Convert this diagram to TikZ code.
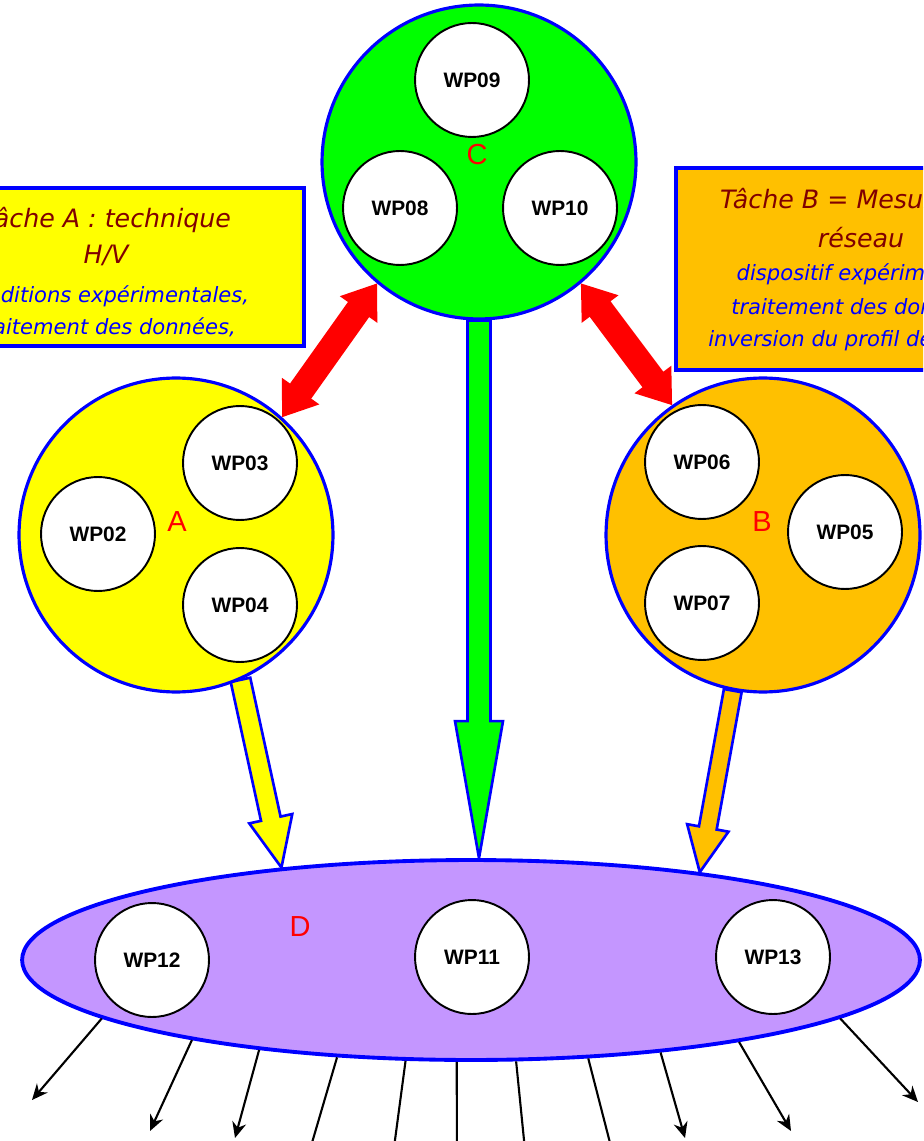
\documentclass[tikz,border=0pt]{standalone}
\usepackage{fontspec}
\setmainfont{Liberation Sans}
\newfontfamily\comicfont{DejaVu Sans}
\usetikzlibrary{shapes.geometric,arrows.meta,calc,backgrounds}

\definecolor{wpyellow}{RGB}{255,255,0}
\definecolor{wpgreen}{RGB}{0,255,0}
\definecolor{wporange}{RGB}{255,192,0}
\definecolor{wppurple}{RGB}{196,150,255}
\definecolor{wpblue}{RGB}{0,0,255}
\definecolor{wpmaroon}{RGB}{128,0,0}

\newcommand\titlefont{\comicfont\itshape\fontsize{14.4}{18.7}\selectfont\color{wpmaroon}}
\newcommand\itemfont{\comicfont\itshape\fontsize{12}{18.7}\selectfont\color{wpblue}}

% fat arrow: start, end, shaft half width, head half width, head length, fill
\newcommand\blockarrow[6]{%
  \coordinate (bh) at ($(#2)!#5!(#1)$);
  \filldraw[fill=#6, draw=wpblue, line width=1.5pt, line join=miter]
    ($(#1)!#3!90:(#2)$) -- ($(bh)!#3!-90:(#1)$) -- ($(bh)!#4!-90:(#1)$) -- (#2)
    -- ($(bh)!#4!90:(#1)$) -- ($(bh)!#3!90:(#1)$) -- ($(#1)!#3!-90:(#2)$) -- cycle;
}
% red two-headed arrow: end, end, shaft half width, head half width, head length
\newcommand\doublearrow[5]{%
  \coordinate (dh1) at ($(#2)!#5!(#1)$);
  \coordinate (dh2) at ($(#1)!#5!(#2)$);
  \fill[red] (#2) -- ($(dh1)!#4!-90:(#1)$) -- ($(dh1)!#3!-90:(#1)$)
    -- ($(dh2)!#3!90:(#2)$) -- ($(dh2)!#4!90:(#2)$) -- (#1)
    -- ($(dh2)!#4!-90:(#2)$) -- ($(dh2)!#3!-90:(#2)$)
    -- ($(dh1)!#3!90:(#1)$) -- ($(dh1)!#4!90:(#1)$) -- cycle;
}

\tikzset{
  bigdisc/.style={circle, draw=wpblue, line width=1.8pt, minimum size=6.28cm, inner sep=0pt},
  wpdisc/.style={circle, draw=black, line width=1.1pt, fill=white, minimum size=2.28cm,
    inner sep=0pt, font=\bfseries\fontsize{11.9}{14}\selectfont},
  tasklabel/.style={text=red, font=\fontsize{16.5}{18}\selectfont, inner sep=0pt},
  taskbox/.style={draw=wpblue, line width=1.8pt, align=center, inner sep=0pt,
    font=\fontsize{10}{18.7}\selectfont},
  outarrow/.style={-{Stealth[length=9pt,width=8pt]}, line width=1.2pt},
}

\begin{document}
\begin{tikzpicture}[x=0.02cm, y=-0.02cm]
  \useasboundingbox (0,0) rectangle (923,1141);
  \clip (0,0) rectangle (923,1141);

  % task boxes
  \node[taskbox, fill=wpyellow, minimum width=7.92cm, minimum height=3.16cm] (taskA) at (106,267)
    {\titlefont\rule{0pt}{17.7pt}Tâche A : technique\\[1.7pt] \titlefont H/V\\[3.3pt]
     \itemfont conditions expérimentales,\\ \itemfont traitement des données,};
  \node[taskbox, fill=wporange, minimum width=7.4cm, minimum height=4.04cm] (taskB) at (861,269)
    {\titlefont\rule{0pt}{12.5pt}Tâche B = Mesures en\\[3.3pt] \titlefont réseau\\
     \itemfont dispositif expérimental,\\[0.6pt] \itemfont traitement des données,\\
     \itemfont inversion du profil de vitesse};

  % groups
  \node[ellipse, draw=wpblue, line width=2.2pt, fill=wppurple, minimum width=17.96cm,
    minimum height=4cm, inner sep=0pt] (D) at (471,960) {};
  \node[bigdisc, fill=wpgreen] (C) at (479,162) {};
  \node[bigdisc, fill=wpyellow] (A) at (176,535) {};
  \node[bigdisc, fill=wporange] (B) at (763,535) {};
  \coordinate (Dtop) at (C.south |- D.north);

  \begin{scope}[on background layer]
    \blockarrow{A.-66}{D.154}{0.2cm}{0.44cm}{1cm}{wpyellow}
    \blockarrow{B.259}{D.21}{0.18cm}{0.42cm}{0.9cm}{wporange}
    \blockarrow{C.south}{Dtop}{0.23cm}{0.48cm}{2.74cm}{wpgreen}
    \doublearrow{A.48}{C.230}{0.26cm}{0.46cm}{0.64cm}
    \doublearrow{B.125}{C.-50}{0.26cm}{0.46cm}{0.64cm}
  \end{scope}

  % work packages
  \node[wpdisc] (wp09) at (472,80) {WP09};
  \node[wpdisc] (wp08) at (400,208) {WP08};
  \node[wpdisc] (wp10) at (560,208) {WP10};
  \node[wpdisc] (wp02) at (98,534) {WP02};
  \node[wpdisc] (wp03) at (240,463) {WP03};
  \node[wpdisc] (wp04) at (240,605) {WP04};
  \node[wpdisc] (wp06) at (702,462) {WP06};
  \node[wpdisc] (wp05) at (845,532) {WP05};
  \node[wpdisc] (wp07) at (702,603) {WP07};
  \node[wpdisc] (wp12) at (152,960) {WP12};
  \node[wpdisc] (wp11) at (472,957) {WP11};
  \node[wpdisc] (wp13) at (773,957) {WP13};

  \node[tasklabel] (labA) at (177,522) {A};
  \node[tasklabel] (labB) at (762,522) {B};
  \node[tasklabel] (labC) at (477,155) {C};
  \node[tasklabel] (labD) at (300,927) {D};

  % outputs
  \foreach \ang/\ex/\ey [count=\i] in {189/32/1100, 196/150/1131, 203/235/1138, 216/304/1170,
      237/391/1170, 262/457/1170, 294/527/1170, 320/617/1170, 334/685/1138, 343/791/1131, 351/918/1102}{
    \coordinate (out\i) at (\ex,\ey);
    \draw[outarrow] (D.\ang) -- (out\i);
  }
\end{tikzpicture}
\end{document}
